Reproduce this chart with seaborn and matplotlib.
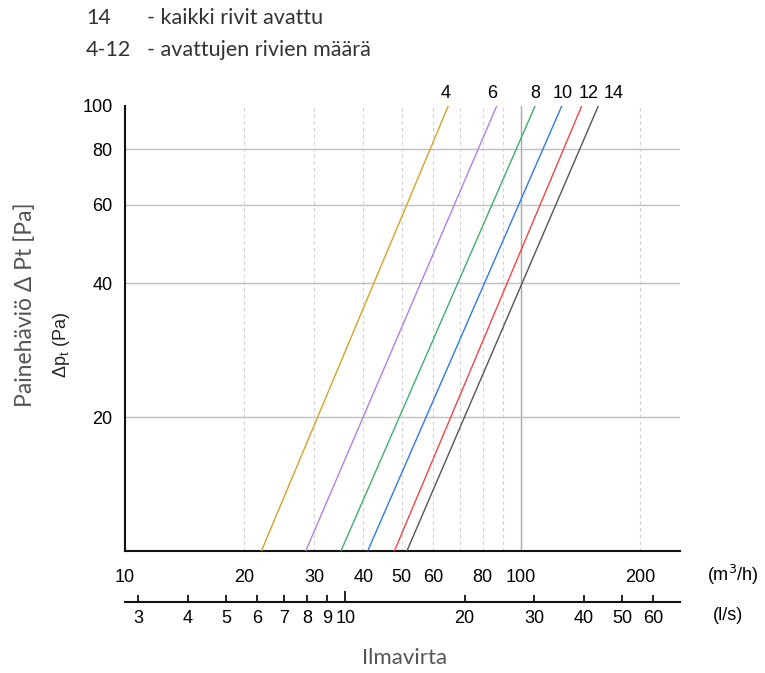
import numpy as np
import pandas as pd
import matplotlib
matplotlib.use("Agg")
import matplotlib.pyplot as plt
import seaborn as sns

rows = ["4", "6", "8", "10", "12", "14"]
q_at_10pa = [22.1, 28.6, 35.1, 41.0, 47.9, 51.5]
q_at_100pa = [65.5, 86.8, 108.5, 126.7, 142.3, 156.7]
dp_ends = [10, 100]

colors = ["#d8a128", "#b27fe6", "#3fae6c", "#2f7ae8", "#f24545", "#555555"]
label_shift = [-2, -3, 0, 1, 5, 11]

x_ticks = [10, 20, 30, 40, 50, 60, 70, 80, 90, 100, 200]
x_labels = ["10", "20", "30", "40", "50", "60", "", "80", "", "100", "200"]
y_ticks = [20, 40, 60, 80, 100]
ls_ticks = [3, 4, 5, 6, 7, 8, 9, 10, 20, 30, 40, 50, 60]

df = pd.DataFrame({
    "rivit": np.repeat(rows, 2),
    "dp": dp_ends * len(rows),
    "q": [v for pair in zip(q_at_10pa, q_at_100pa) for v in pair],
})

sns.set_style("white")
plt.rcParams["font.family"] = ["Liberation Sans", "DejaVu Sans"]

fig = plt.figure(figsize=(7.65, 6.73), dpi=100)
ax = fig.add_axes([125 / 765, 122 / 673, 555 / 765, 445 / 673])

sns.lineplot(data=df, x="q", y="dp", hue="rivit", palette=colors, legend=False,
             linewidth=1.0, sort=False, ax=ax, zorder=3)

ax.set_xscale("log")
ax.set_yscale("log")
ax.set_xlim(10, 252)
ax.set_ylim(10, 100)

# grid
for v in [20, 30, 40, 50, 60, 70, 80, 90, 200]:
    ax.axvline(v, color="#d0d0d0", lw=0.8, ls=(0, (3, 3)), zorder=1)
ax.axvline(100, color="#a8a8a8", lw=1.0, zorder=1)
for v in [20, 40, 60, 80]:
    ax.axhline(v, color="#c0c0c0", lw=1.0, zorder=1)

for s in ["top", "right"]:
    ax.spines[s].set_visible(False)
for s in ["left", "bottom"]:
    ax.spines[s].set_color("#111111")
    ax.spines[s].set_linewidth(1.5)

ax.xaxis.set_minor_locator(matplotlib.ticker.NullLocator())
ax.yaxis.set_minor_locator(matplotlib.ticker.NullLocator())
ax.set_xticks(x_ticks)
ax.set_xticklabels(x_labels)
ax.set_yticks(y_ticks)
ax.set_yticklabels([str(v) for v in y_ticks])
ax.tick_params(axis="both", direction="out", length=6, width=1.3, color="#111111",
               labelsize=13, labelcolor="#000000")
ax.tick_params(axis="x", pad=7)
ax.tick_params(axis="y", pad=3)
# longer ticks at the decades
for t in ax.xaxis.get_major_ticks():
    if t.get_loc() in (10, 100):
        t.tick1line.set_markersize(9)

ax.set_xlabel("")
ax.set_ylabel("Δp$_\\mathregular{t}$ (Pa)", fontsize=13, color="#222222")
ax.yaxis.set_label_coords(-0.0955, 0.463)

# curve labels above the top edge
for r, q, dx in zip(rows, q_at_100pa, label_shift):
    ax.annotate(r, (q, 100), xytext=(dx, 3), textcoords="offset points",
                ha="center", va="bottom", fontsize=13, color="#000000",
                annotation_clip=False)

# second flow axis in l/s
sec = ax.secondary_xaxis(-0.1146, functions=(lambda x: x / 3.6, lambda x: x * 3.6))
sec.set_xticks(ls_ticks)
sec.set_xticklabels([str(v) for v in ls_ticks])
sec.xaxis.set_minor_locator(matplotlib.ticker.NullLocator())
sec.tick_params(axis="x", direction="in", length=5, width=1.3, color="#111111",
                labelsize=13, labelcolor="#000000", pad=6)
for t in sec.xaxis.get_major_ticks():
    if abs(t.get_loc() - 10) < 1e-6:
        t.tick1line.set_markersize(8)
sec.spines["bottom"].set_linewidth(1.5)
sec.spines["bottom"].set_color("#111111")

fig.text(733 / 765, 1 - 575 / 673, "(m$^3$/h)", ha="center", va="center", fontsize=13, color="#000000")
fig.text(728 / 765, 1 - 615 / 673, "(l/s)", ha="center", va="center", fontsize=13, color="#000000")

side_font = ["Lato", "DejaVu Sans"]
fig.text(405 / 765, 1 - 658 / 673, "Ilmavirta", ha="center", va="center",
         fontsize=16, color="#555555", family=side_font)
fig.text(25 / 765, 1 - 305 / 673, "Painehäviö Δ Pt [Pa]", ha="center", va="center",
         rotation=90, fontsize=16.5, color="#555555", family=side_font)

top_kw = dict(ha="left", va="center", fontsize=15.5, color="#333333", family=side_font)
fig.text(86 / 765, 1 - 18 / 673, "14", **top_kw)
fig.text(147 / 765, 1 - 18 / 673, "- kaikki rivit avattu", **top_kw)
fig.text(86 / 765, 1 - 50 / 673, "4-12", **top_kw)
fig.text(147 / 765, 1 - 50 / 673, "- avattujen rivien määrä", **top_kw)

fig.savefig("out.png", dpi=100, facecolor="white")
